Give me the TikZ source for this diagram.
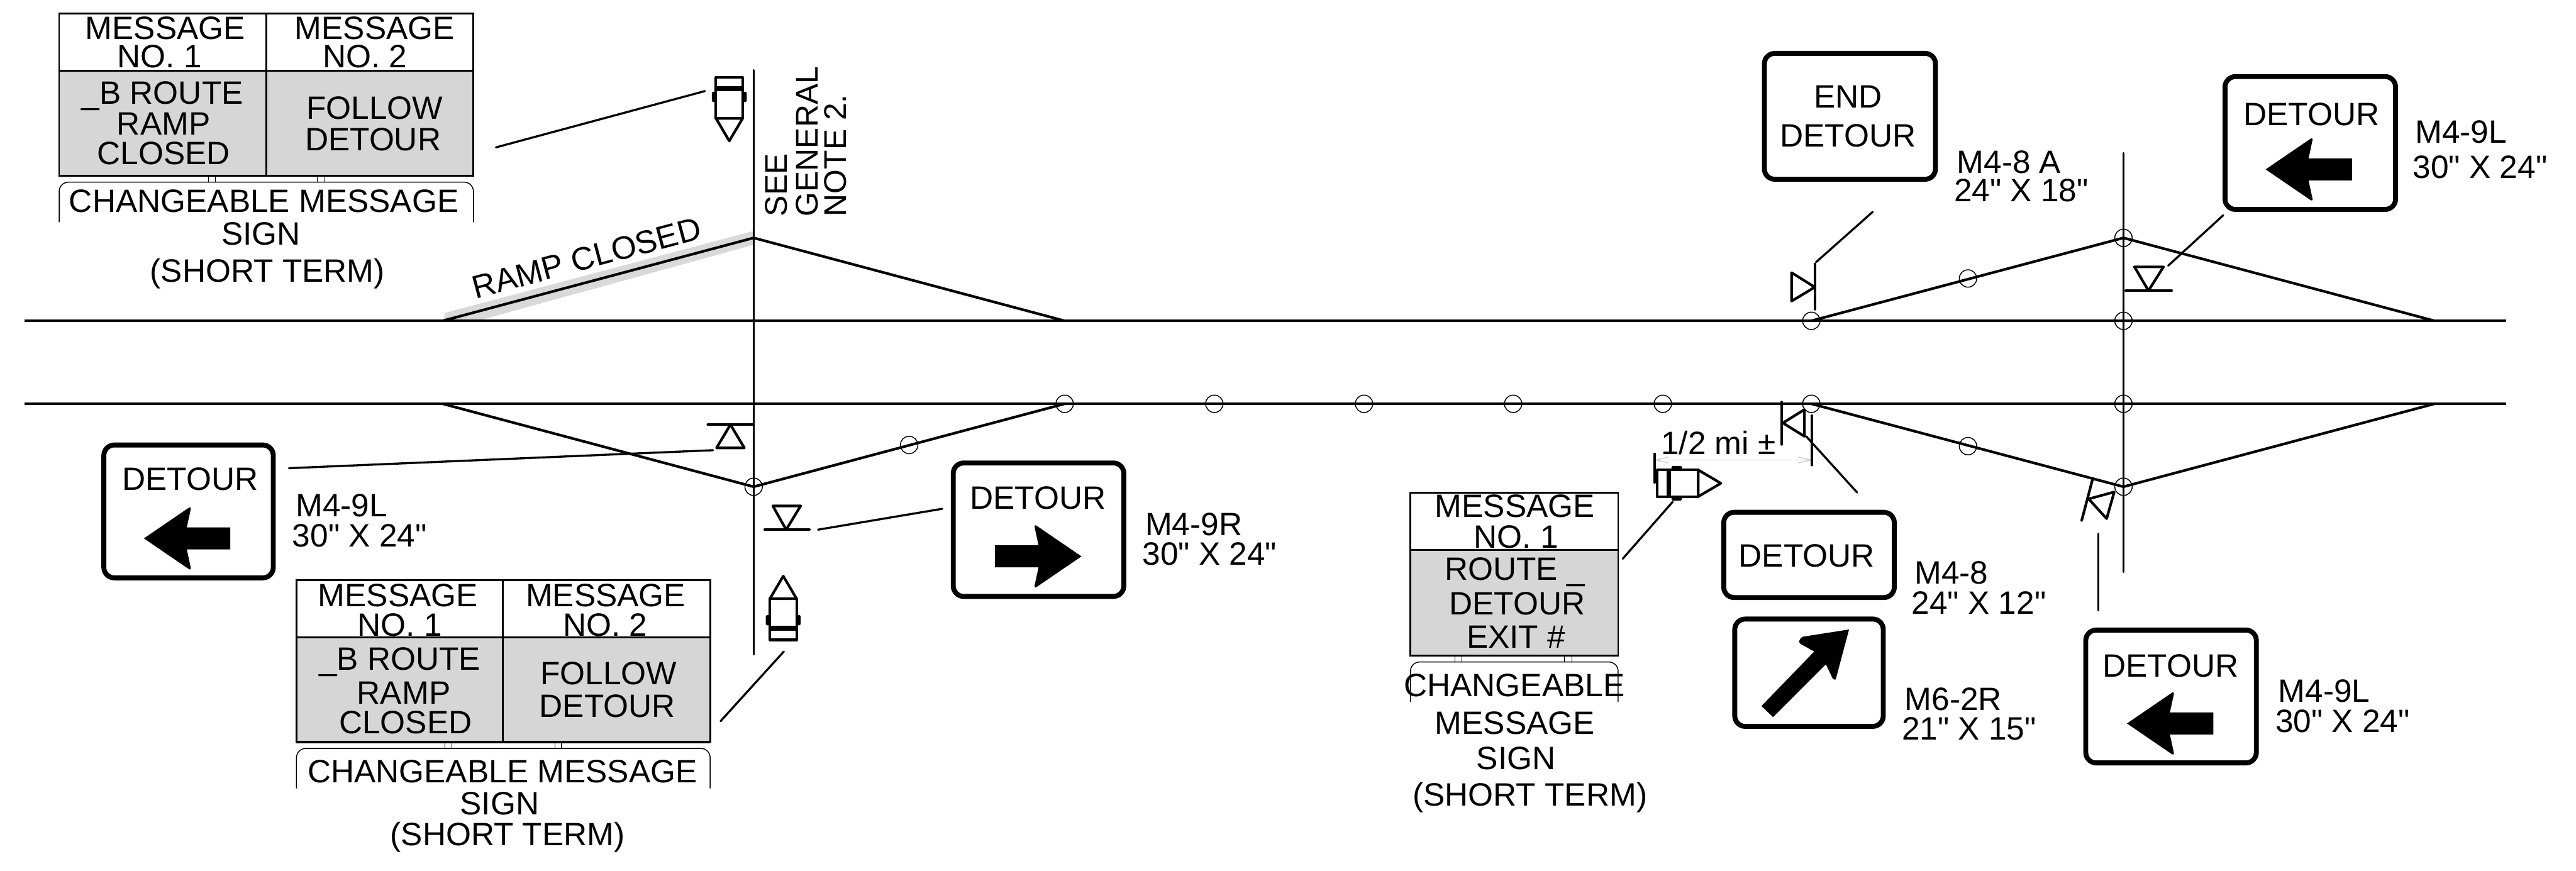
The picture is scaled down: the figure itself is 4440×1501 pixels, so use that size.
\documentclass[tikz,border=0pt]{standalone}
\usepackage{fontspec}
\setmainfont{Liberation Sans}
\newfontfamily\signfont{Liberation Sans}
\tikzset{
  x=1pt,y=-1pt,
  txt/.style={inner sep=0pt,outer sep=0pt,font=\signfont\fontsize{55.7}{60}\selectfont,text=black},
  road/.style={line width=5pt,black},
  taper/.style={line width=4.5pt,black},
  pole/.style={line width=3.6pt,black,line cap=round},
  leader/.style={line width=3.6pt,black,line cap=round},
  cone/.style={line width=1.6pt,black},
  glyph/.style={line width=4.5pt,black,line join=round,line cap=round},
  signbox/.style={draw=black,fill=white,line width=8.5pt,rounded corners=18pt,inner sep=0pt,outer sep=0pt},
  cell/.style={draw=black,line width=3pt},
  msgfill/.style={draw=black,line width=3pt,fill=msggrey},
  bracket/.style={draw=black,line width=1.6pt,rounded corners=16pt},
  truck/.pic={
    \draw[line width=4.5pt,line join=round] (-23,39) -- (0,0) -- (23,39) -- cycle;
    \draw[line width=4.5pt,line join=round] (-23,39) rectangle (23,110);
    \draw[line width=8pt] (-23,90) -- (23,90);
    \fill[rounded corners=2pt] (-30,67) rectangle (-23,85);
    \fill[rounded corners=2pt] (23,67) rectangle (30,85);
  },
  leftarrow/.pic={
    \fill (0,0) [rounded corners=6pt] -- (82,-56) [sharp corners] -- (74,-19) -- (149,-19) -- (149,19) -- (74,19) [rounded corners=6pt] -- (82,56) [sharp corners] -- cycle;
  },
}
\definecolor{msggrey}{HTML}{D6D6D6}
\definecolor{bandgrey}{HTML}{D9D9D9}
\newcommand\TC[4]{\node[txt,anchor=base] (#1) at (#2,#3) {#4};}
\newcommand\TL[4]{\node[txt,anchor=base west] (#1) at (#2,#3) {#4};}
\begin{document}
\begin{tikzpicture}
\useasboundingbox (0,0) rectangle (4440,1501);
\fill[white] (0,0) rectangle (4440,1501);

% ---- shaded closed ramp
\fill[bandgrey] (763,553) -- (768,539) -- (1299,398) -- (1299,422) -- (823,553) -- cycle;

% ---- road edges and tapers
\coordinate (roadTopL) at (42,553);
\coordinate (roadTopR) at (4320,553);
\coordinate (roadBotL) at (42,696);
\coordinate (roadBotR) at (4320,696);
\draw[road] (roadTopL) -- (roadTopR);
\draw[road] (roadBotL) -- (roadBotR);

\coordinate (A1) at (763,553);
\coordinate (A2) at (1299,410);
\coordinate (A3) at (1835,553);
\coordinate (B1) at (763,696);
\coordinate (B2) at (1299,839);
\coordinate (B3) at (1835,696);
\coordinate (C1) at (3122,553);
\coordinate (C2) at (3660,410);
\coordinate (C3) at (4196,553);
\coordinate (D1) at (3122,696);
\coordinate (D2) at (3660,839);
\coordinate (D3) at (4196,696);
\draw[taper,line join=round] (A1) -- (A2) -- (A3);
\draw[taper,line join=round] (B1) -- (B2) -- (B3);
\draw[taper,line join=round] (C1) -- (C2) -- (C3);
\draw[taper,line join=round] (D1) -- (D2) -- (D3);

% ---- reference verticals
\coordinate (P1a) at (1299,121);
\coordinate (P1b) at (1299,1128);
\coordinate (P2a) at (3660,264);
\coordinate (P2b) at (3660,986);
\draw[pole] (P1a) -- (P1b);
\draw[pole] (P2a) -- (P2b);

% ---- channelizing circles
\foreach \cx/\cy in {1299/839,1567/767,1835/696,2093/696,2351/696,2608/696,2866/696,3122/696,3392/769,3660/839,3660/696,3660/553,3660/410,3392/480,3122/553}
  \draw[cone] (\cx,\cy) circle[radius=15];

% ---- sign symbols
\draw[glyph] (1220,732) -- (1299,732);
\draw[glyph] (1259,732) -- (1235,772) -- (1283,772) -- cycle;
\draw[glyph] (1318,913) -- (1395,913);
\draw[glyph] (1332,872) -- (1380,872) -- (1355,913) -- cycle;
\draw[glyph] (3128,455) -- (3128,533);
\draw[glyph] (3128,495) -- (3088,470) -- (3088,519) -- cycle;
\draw[glyph] (3664,501) -- (3743,501);
\draw[glyph] (3679,460) -- (3729,460) -- (3703,501) -- cycle;
\draw[glyph] (3071,693) -- (3071,766);
\draw[glyph] (3073,729) -- (3110,706) -- (3110,752) -- cycle;
\draw[glyph] (3607,825) -- (3588,897);
\draw[glyph] (3600,860) -- (3644,848) -- (3631,894) -- cycle;

% ---- trucks
\pic[rotate=180] at (1257,243) {truck};
\pic at (1350,993) {truck};
\pic[rotate=-90] at (2966,833) {truck};

% ---- half-mile dimension
\coordinate (dimL) at (2853,793);
\coordinate (dimR) at (3122,793);
\draw[line width=1.6pt,black!18] (dimL) -- (dimR);
\draw[line width=1.6pt,black!18] (2876,788) -- (dimL) -- (2876,798);
\draw[line width=1.6pt,black!18] (3099,788) -- (dimR) -- (3099,798);
\draw[pole] (3123,716) -- (3123,802);
\draw[pole] (2852,782) -- (2852,832);

% ---- leaders
\coordinate (La1) at (855,254);  \coordinate (La2) at (1215,157);
\coordinate (Lb1) at (498,807);  \coordinate (Lb2) at (1229,776);
\coordinate (Lc1) at (1410,913); \coordinate (Lc2) at (1624,877);
\coordinate (Ld1) at (1351,1123);\coordinate (Ld2) at (1242,1243);
\coordinate (Le1) at (2883,865); \coordinate (Le2) at (2797,963);
\coordinate (Lf1) at (3113,752); \coordinate (Lf2) at (3201,849);
\coordinate (Lg1) at (3617,920); \coordinate (Lg2) at (3617,1052);
\coordinate (Lh1) at (3228,365); \coordinate (Lh2) at (3130,452);
\coordinate (Li1) at (3832,371); \coordinate (Li2) at (3737,458);
\foreach \a/\b in {La1/La2,Lb1/Lb2,Lc1/Lc2,Ld1/Ld2,Le1/Le2,Lf1/Lf2,Lg1/Lg2,Lh1/Lh2,Li1/Li2}
  \draw[leader] (\a) -- (\b);

% ---- signs
\node[signbox,minimum width=295pt,minimum height=217pt] (endSign) at (3188.5,200.5) {};
\TC{endA}{3185}{186}{END}
\TC{endB}{3185}{253}{DETOUR}
\TL{endC}{3373}{299}{M4-8 A}
\TL{endD}{3368}{347}{24" X 18"}

\node[signbox,minimum width=294pt,minimum height=229pt] (sgnNE) at (3982,246.5) {};
\TC{neA}{3984}{216}{DETOUR}
\pic at (3905,292) {leftarrow};
\TL{neB}{4163}{247}{M4-9L}
\TL{neC}{4159}{307}{30" X 24"}

\node[signbox,minimum width=292pt,minimum height=229pt] (sgnW) at (325,881.5) {};
\TC{wA}{328}{845}{DETOUR}
\pic at (248,928) {leftarrow};
\TL{wB}{510}{891}{M4-9L}
\TL{wC}{504}{943}{30" X 24"}

\node[signbox,minimum width=294pt,minimum height=230pt] (sgnE) at (1790,913) {};
\TC{eA}{1789}{878}{DETOUR}
\pic[xscale=-1] at (1864,959) {leftarrow};
\TL{eB}{1974}{923}{M4-9R}
\TL{eC}{1969}{974}{30" X 24"}

\node[signbox,minimum width=294pt,minimum height=147pt] (sgnM48) at (3118,956.5) {};
\TC{m48A}{3114}{977}{DETOUR}
\TL{m48B}{3300}{1007}{M4-8}
\TL{m48C}{3295}{1058}{24" X 12"}

\node[signbox,minimum width=256pt,minimum height=185pt] (sgnM62) at (3118,1159.5) {};
\fill (3187,1085) -- (3164,1171) [rounded corners=3pt] -- (3160,1172) [sharp corners] -- (3147,1145) -- (3056,1236) -- (3036,1217) -- (3127,1123) [rounded corners=4pt] -- (3100,1108) -- (3104,1098) [sharp corners] -- cycle;
\TL{m62B}{3283}{1224}{M6-2R}
\TL{m62C}{3278}{1275}{21" X 15"}

\node[signbox,minimum width=294pt,minimum height=229pt] (sgnS) at (3742,1200.5) {};
\TC{sA}{3741}{1167}{DETOUR}
\pic at (3666,1247) {leftarrow};
\TL{sB}{3927}{1210}{M4-9L}
\TL{sC}{3922}{1262}{30" X 24"}

% ---- changeable message sign 1
\draw[cell] (102,23) rectangle (459,122);
\draw[cell] (459,23) rectangle (816,122);
\draw[msgfill] (102,122) rectangle (459,303);
\draw[msgfill] (459,122) rectangle (816,303);
\draw[line width=4pt] (102,303) -- (816,303);
\draw[line width=1.2pt] (359,303) -- (359,314) (371,303) -- (371,314) (547,303) -- (547,314) (560,303) -- (560,314);
\draw[bracket] (102,383) -- (102,314) -- (816,314) -- (816,383);
\TC{cmsA1}{285}{68}{MESSAGE}
\TC{cmsA2}{275}{116}{NO. 1}
\TC{cmsA3}{646}{68}{MESSAGE}
\TC{cmsA4}{629}{116}{NO. 2}
\TC{cmsA5}{280}{179}{\_B ROUTE}
\TC{cmsA6}{282}{233}{RAMP}
\TC{cmsA7}{282}{284}{CLOSED}
\TC{cmsA8}{646}{205}{FOLLOW}
\TC{cmsA9}{643}{260}{DETOUR}
\TC{cmsA10}{455}{366}{CHANGEABLE MESSAGE}
\TC{cmsA11}{450}{422}{SIGN}
\TC{cmsA12}{461}{486}{(SHORT TERM)}

% ---- changeable message sign 2
\draw[cell] (511,1000) rectangle (867,1099);
\draw[cell] (867,1000) rectangle (1224,1099);
\draw[msgfill] (511,1099) rectangle (867,1279);
\draw[msgfill] (867,1099) rectangle (1224,1279);
\draw[line width=4pt] (511,1279) -- (1224,1279);
\draw[line width=1.2pt] (767,1279) -- (767,1290) (779,1279) -- (779,1290) (957,1279) -- (957,1290) (968,1279) -- (968,1290);
\draw[bracket] (511,1359) -- (511,1290) -- (1224,1290) -- (1224,1359);
\TC{cmsB1}{686}{1045}{MESSAGE}
\TC{cmsB2}{689}{1096}{NO. 1}
\TC{cmsB3}{1044}{1045}{MESSAGE}
\TC{cmsB4}{1043}{1096}{NO. 2}
\TC{cmsB5}{689}{1155}{\_B ROUTE}
\TC{cmsB6}{696}{1213}{RAMP}
\TC{cmsB7}{699}{1264}{CLOSED}
\TC{cmsB8}{1049}{1180}{FOLLOW}
\TC{cmsB9}{1047}{1236}{DETOUR}
\TC{cmsB10}{866}{1349}{CHANGEABLE MESSAGE}
\TC{cmsB11}{861}{1404}{SIGN}
\TC{cmsB12}{875}{1457}{(SHORT TERM)}

% ---- changeable message sign 3
\draw[cell] (2431,849) rectangle (2789,948);
\draw[msgfill] (2431,948) rectangle (2789,1130);
\draw[line width=4pt] (2431,1130) -- (2789,1130);
\draw[line width=1.2pt] (2508,1130) -- (2508,1141) (2520,1130) -- (2520,1141) (2696,1130) -- (2696,1141) (2709,1130) -- (2709,1141);
\draw[bracket] (2431,1210) -- (2431,1141) -- (2789,1141) -- (2789,1210);
\TC{cmsC1}{2611}{892}{MESSAGE}
\TC{cmsC2}{2613}{945}{NO. 1}
\TC{cmsC3}{2611}{1000}{ROUTE \_}
\TC{cmsC4}{2615}{1060}{DETOUR}
\TC{cmsC5}{2613}{1117}{EXIT \#}
\TC{cmsC6}{2610}{1201}{CHANGEABLE}
\TC{cmsC7}{2611}{1265}{MESSAGE}
\TC{cmsC8}{2613}{1326}{SIGN}
\TC{cmsC9}{2637}{1389}{(SHORT TERM)}

% ---- free labels
\TL{half}{2863}{783}{1/2 mi ±}
\node[txt,anchor=base,rotate=15] (rampText) at (1016,463) {RAMP CLOSED};
\node[txt,font=\signfont\fontsize{54}{60}\selectfont,anchor=base west,rotate=90] (note1) at (1357,373) {SEE};
\node[txt,font=\signfont\fontsize{54}{60}\selectfont,anchor=base west,rotate=90] (note2) at (1410,373) {GENERAL};
\node[txt,font=\signfont\fontsize{54}{60}\selectfont,anchor=base west,rotate=90] (note3) at (1459,373) {NOTE 2.};
\end{tikzpicture}
\end{document}
